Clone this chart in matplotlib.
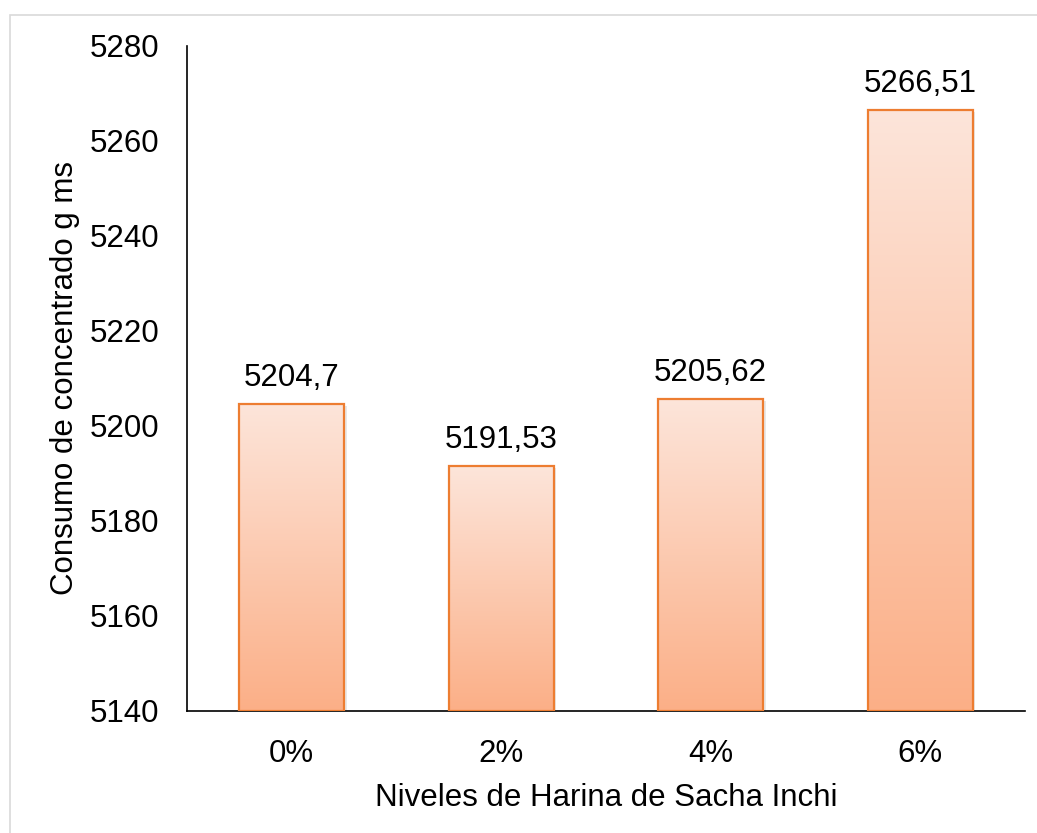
import matplotlib
matplotlib.use('Agg')
import matplotlib.pyplot as plt
import numpy as np
from matplotlib.colors import LinearSegmentedColormap
from matplotlib.patches import Rectangle

categories = ['0%', '2%', '4%', '6%']
values = [5204.70, 5191.53, 5205.62, 5266.51]
value_labels = ['5204,7', '5191,53', '5205,62', '5266,51']

plt.rcParams['font.family'] = ['Liberation Sans', 'DejaVu Sans']
FS = 22.5

fig = plt.figure(figsize=(10.37, 8.33), dpi=100)
ax = fig.add_axes([0.1803, 0.1465, 0.8081, 0.7983])

# light grey frame around the chart area
fig.patches.append(Rectangle((10 / 1037, -0.1), 1.2, 1 - 15 / 833 + 0.1,
                             transform=fig.transFigure, fill=False,
                             edgecolor='#d9d9d9', linewidth=1.2))

ymin, ymax = 5140, 5280
x = np.arange(len(categories))
bars = ax.bar(x, [v - ymin for v in values], bottom=ymin, width=0.5,
              color='none', edgecolor='#ED7D31', linewidth=1.6, zorder=3)

cmap = LinearSegmentedColormap.from_list('grad', ['#FBAF87', '#FDE5DA'])
grad = np.linspace(0, 1, 256).reshape(-1, 1)
for b in bars:
    x0, y0, w, h = b.get_x(), b.get_y(), b.get_width(), b.get_height()
    # soft shadow
    ax.add_patch(Rectangle((x0 + 0.012, y0), w, h - 0.4, facecolor='#bfbfbf',
                           alpha=0.35, edgecolor='none', zorder=1))
    ax.imshow(grad, extent=[x0, x0 + w, y0, y0 + h], origin='lower',
              cmap=cmap, aspect='auto', zorder=2)

for xi, v, lab in zip(x, values, value_labels):
    ax.text(xi, v + 2.3, lab, ha='center', va='bottom', fontsize=FS)

ax.set_xlim(-0.5, 3.5)
ax.set_ylim(ymin, ymax)
ax.set_yticks(np.arange(5140, 5281, 20))
ax.set_xticks(x)
ax.set_xticklabels(categories)
ax.tick_params(axis='both', length=0, labelsize=FS)
ax.tick_params(axis='y', pad=20)
ax.tick_params(axis='x', pad=20)
ax.set_xlabel('Niveles de Harina de Sacha Inchi', fontsize=FS, labelpad=10)
ax.set_ylabel('Consumo de concentrado g ms', fontsize=FS, labelpad=7)
ax.spines['top'].set_visible(False)
ax.spines['right'].set_visible(False)
ax.spines['left'].set_linewidth(1.2)
ax.spines['bottom'].set_linewidth(1.2)

fig.savefig('out.png', dpi=100)
